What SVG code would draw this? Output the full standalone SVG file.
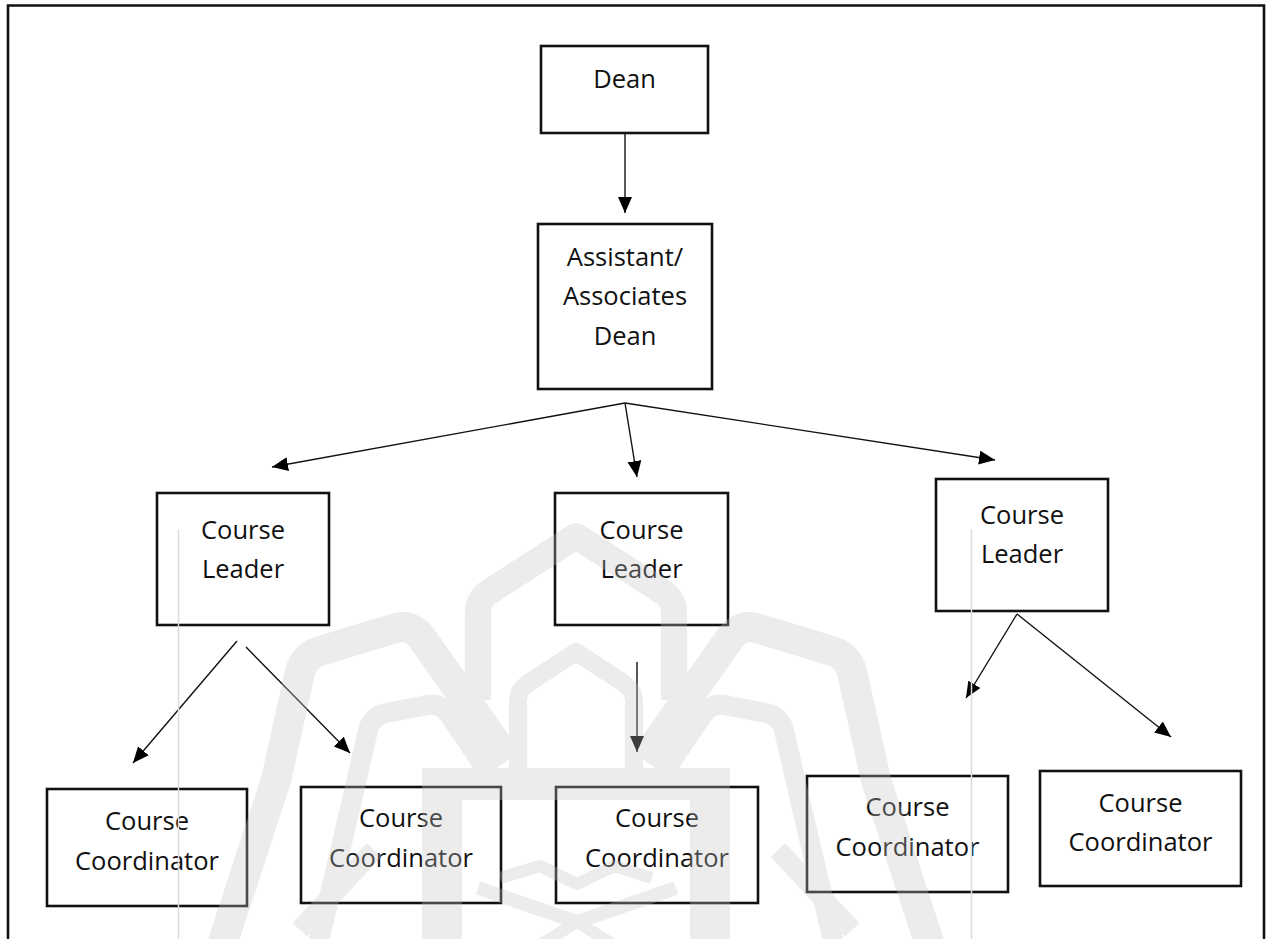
<svg xmlns="http://www.w3.org/2000/svg" width="1272" height="939" viewBox="0 0 1272 939">
<defs>
<marker id="ah" markerUnits="userSpaceOnUse" markerWidth="18" markerHeight="16" refX="16" refY="7" orient="auto"><path d="M0,0 L16,7 L0,14 z" fill="#000"/></marker>
<style>
.box{fill:#fff;stroke:#111;stroke-width:2.6}
.lbl{font-family:"Open Sans","Noto Sans",sans-serif;font-size:25.5px;fill:#111;text-anchor:middle}
.conn{stroke:#111;stroke-width:1.4;fill:none;marker-end:url(#ah)}
.wm{fill:none;stroke:#c2c2c2;stroke-linejoin:round;stroke-linecap:butt}
.wmf{fill:#c2c2c2;stroke:none}
.guide{stroke:#dcdcdc;stroke-width:1.5}
</style>
</defs>
<rect width="1272" height="939" fill="#fff"/>
<path d="M8,939 L8,5.5 L1264,5.5 L1264,939" fill="none" stroke="#111" stroke-width="2.6"/>

<g id="connectors">
<line class="conn" x1="625" y1="133" x2="625" y2="213"/>
<line class="conn" x1="625" y1="403" x2="272" y2="467"/>
<line class="conn" x1="625" y1="403" x2="637" y2="477"/>
<line class="conn" x1="625" y1="403" x2="995" y2="460"/>
<line class="conn" x1="237" y1="641" x2="133" y2="763"/>
<line class="conn" x1="246" y1="647" x2="350" y2="753"/>
<line class="conn" x1="637" y1="662" x2="637" y2="752"/>
<line class="conn" x1="1017" y1="614" x2="966" y2="698"/>
<line class="conn" x1="1017" y1="614" x2="1171" y2="737"/>
</g>

<g id="dean">
<rect class="box" x="541" y="46" width="167" height="87"/>
<text class="lbl" x="624.5" y="88">Dean</text>
</g>
<g id="assistant-dean">
<rect class="box" x="538" y="224" width="174" height="165"/>
<text class="lbl" x="625" y="266">Assistant/</text>
<text class="lbl" x="625" y="305">Associates</text>
<text class="lbl" x="625" y="345">Dean</text>
</g>
<g id="leader-1">
<rect class="box" x="157" y="493" width="172" height="132"/>
<text class="lbl" x="243" y="539">Course</text>
<text class="lbl" x="243" y="578">Leader</text>
</g>
<g id="leader-2">
<rect class="box" x="555" y="493" width="173" height="132"/>
<text class="lbl" x="641.5" y="539">Course</text>
<text class="lbl" x="641.5" y="578">Leader</text>
</g>
<g id="leader-3">
<rect class="box" x="936" y="479" width="172" height="132"/>
<text class="lbl" x="1022" y="524">Course</text>
<text class="lbl" x="1022" y="563">Leader</text>
</g>
<g id="coordinator-1">
<rect class="box" x="47" y="789" width="200" height="117"/>
<text class="lbl" x="147" y="830">Course</text>
<text class="lbl" x="147" y="870">Coordinator</text>
</g>
<g id="coordinator-2">
<rect class="box" x="301" y="787" width="200" height="116"/>
<text class="lbl" x="401" y="827">Course</text>
<text class="lbl" x="401" y="867">Coordinator</text>
</g>
<g id="coordinator-3">
<rect class="box" x="556" y="787" width="202" height="116"/>
<text class="lbl" x="657" y="827">Course</text>
<text class="lbl" x="657" y="867">Coordinator</text>
</g>
<g id="coordinator-4">
<rect class="box" x="807" y="776" width="201" height="116"/>
<text class="lbl" x="907.5" y="816">Course</text>
<text class="lbl" x="907.5" y="856">Coordinator</text>
</g>
<g id="coordinator-5">
<rect class="box" x="1040" y="771" width="201" height="115"/>
<text class="lbl" x="1140.5" y="812">Course</text>
<text class="lbl" x="1140.5" y="851">Coordinator</text>
</g>

<g id="watermark" opacity="0.32">
<g id="wm-left">
<path class="wm" stroke-width="30" d="M222,945 L276,780 L300,672 Q304,656 320,651 L396,628 Q412,624 422,638 L508,760"/>
<path class="wm" stroke-width="20" d="M318,945 L352,800 L368,730 Q372,716 386,713 L428,705 Q442,703 450,716 L500,790"/>
<path class="wm" stroke-width="20" d="M374,850 L300,930"/>
</g>
<use href="#wm-left" transform="translate(1152,0) scale(-1,1)"/>
<path class="wm" stroke-width="26" d="M478,700 L478,612 Q478,598 492,590 L576,536 L660,590 Q674,598 674,612 L674,700"/>
<path class="wm" stroke-width="18" d="M518,770 L518,700 Q518,690 530,682 L576,652 L622,682 Q634,690 634,700 L634,770"/>
<rect class="wmf" x="422" y="768" width="308" height="32"/>
<rect class="wmf" x="422" y="768" width="40" height="171"/>
<rect class="wmf" x="690" y="768" width="40" height="171"/>
<path class="wm" stroke-width="14" d="M478,888 L577,922 L676,888"/>
<path class="wm" stroke-width="12" d="M500,878 L540,866 L577,884 L614,866 L652,878"/>
<path class="wm" stroke-width="12" d="M540,945 L577,922 L614,945"/>
</g>
<line class="guide" x1="178.5" y1="529" x2="178.5" y2="939"/>
<line class="guide" x1="971.5" y1="529" x2="971.5" y2="939"/>
</svg>
